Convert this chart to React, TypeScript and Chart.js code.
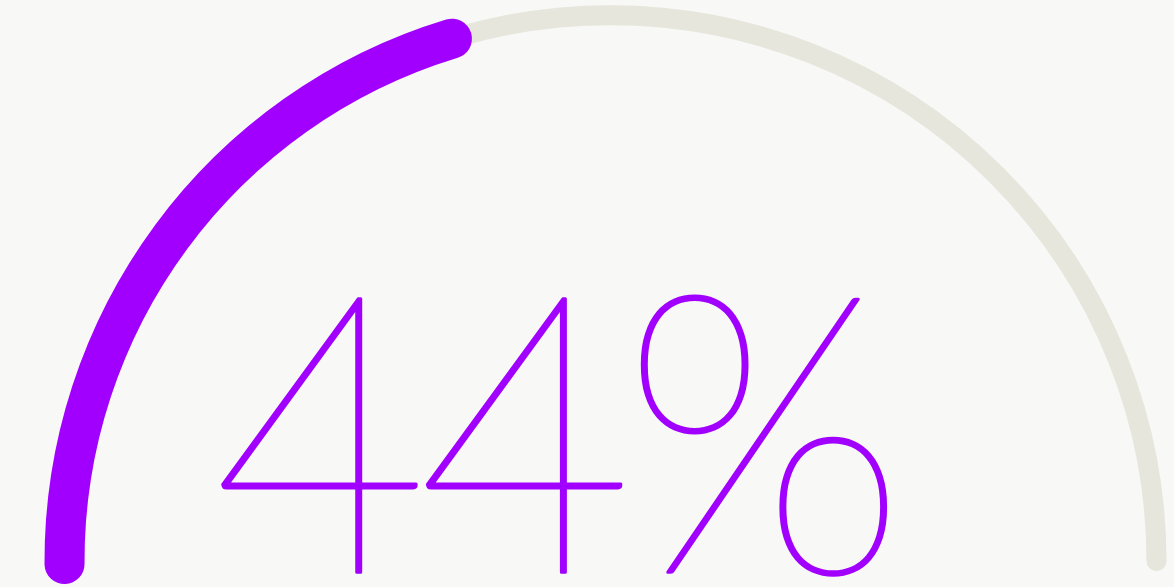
import React, { useEffect, useRef } from "react";
import { Chart, registerables } from "chart.js";

Chart.register(...registerables);

// ---- data ----
const categories = ["Complete", "Remaining"];
const arcValues = [42, 58];
const labelValues = [44];
const labelSuffix = "%";

// ---- styles ----
const PURPLE = "#a100ff";
const TRACK = "#e6e6dc";
const BG = "#f8f8f6";

export default function App() {
  const ref = useRef<HTMLCanvasElement>(null);

  useEffect(() => {
    document.body.style.margin = "0";
    document.body.style.background = BG;

    const trackPlugin = {
      id: "gaugeTrack",
      beforeDatasetsDraw(chart: any) {
        const arc = chart.getDatasetMeta(0).data[0];
        if (!arc) return;
        const { x, y, innerRadius, outerRadius } = arc.getProps(
          ["x", "y", "innerRadius", "outerRadius"],
          true
        );
        const ctx = chart.ctx;
        ctx.save();
        ctx.beginPath();
        ctx.arc(x, y, (innerRadius + outerRadius) / 2, Math.PI, 2 * Math.PI);
        ctx.lineWidth = 20;
        ctx.lineCap = "round";
        ctx.strokeStyle = TRACK;
        ctx.stroke();
        ctx.restore();
      },
    };

    const labelPlugin = {
      id: "gaugeLabel",
      afterDatasetsDraw(chart: any) {
        const arc = chart.getDatasetMeta(0).data[0];
        if (!arc) return;
        const { x, y } = arc.getProps(["x", "y"], true);
        const ctx = chart.ctx;
        const text = `${labelValues[0]}${labelSuffix}`;
        const sx = 0.96;
        ctx.save();
        ctx.font = "100 390px Lato";
        (ctx as any).letterSpacing = "-13px";
        ctx.fillStyle = PURPLE;
        ctx.strokeStyle = PURPLE;
        ctx.lineWidth = 3;
        ctx.lineJoin = "round";
        ctx.textAlign = "left";
        ctx.textBaseline = "alphabetic";
        const m = ctx.measureText(text);
        ctx.translate(x - 392.5, y + 11);
        ctx.scale(sx, 1);
        ctx.fillText(text, m.actualBoundingBoxLeft, 0);
        ctx.strokeText(text, m.actualBoundingBoxLeft, 0);
        ctx.restore();
      },
    };

    const chart = new Chart(ref.current!, {
      type: "doughnut",
      data: {
        labels: categories,
        datasets: [
          {
            data: arcValues,
            backgroundColor: [PURPLE, "rgba(0,0,0,0)"],
            borderWidth: 0,
            borderRadius: (c: any) => (c.dataIndex === 0 ? 20 : 0),
          },
        ],
      },
      options: {
        animation: false,
        responsive: true,
        maintainAspectRatio: false,
        events: [],
        rotation: -92.4,
        circumference: 184.8,
        radius: 566,
        cutout: "92.93%",
        layout: { padding: { left: 47, right: 0, top: 0, bottom: 7 } },
        plugins: {
          legend: { display: false },
          tooltip: { enabled: false },
        },
      } as any,
      plugins: [trackPlugin, labelPlugin],
    });

    return () => chart.destroy();
  }, []);

  return (
    <div
      style={{
        position: "relative",
        width: 1174,
        height: 587,
        background: BG,
      }}
    >
      <canvas ref={ref} />
    </div>
  );
}
